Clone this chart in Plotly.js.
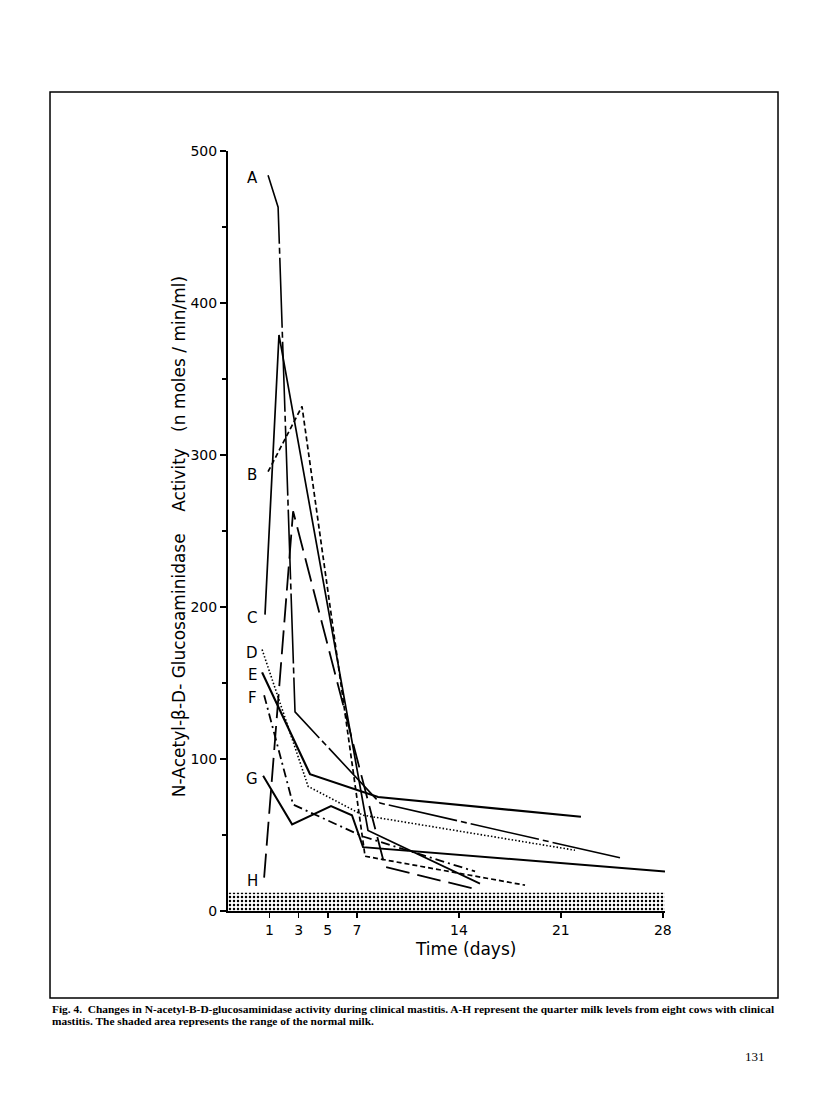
<!DOCTYPE html>
<html>
<head>
<meta charset="utf-8">
<script src="https://cdn.plot.ly/plotly-3.0.1.min.js"></script>
<style>
  body { margin: 0; background: #fff; }
  #fig4 { width: 816px; height: 1105px; }
</style>
</head>
<body>
<div id="fig4"></div>
<script>
// values (days, nmoles/min/ml)
var cowNames = ['A', 'B', 'C', 'D', 'E', 'F', 'G', 'H'];

var daysA = [0.90, 1.59, 2.75, 8.59, 25.06];
var valsA = [484, 463, 131, 71, 35];
var daysB = [0.90, 3.23, 7.56, 18.54];
var valsB = [289, 332, 36, 17];
var daysC = [0.69, 1.65, 7.76, 15.45];
var valsC = [195, 379, 53, 18];
var daysD = [0.49, 3.65, 7.42, 21.97];
var valsD = [172, 82, 63, 40];
var daysE = [0.49, 3.78, 8.45, 22.38];
var valsE = [157, 90, 75, 62];
var daysF = [0.63, 2.62, 7.42, 15.11];
var valsF = [142, 70, 49, 26];
var daysG = [0.56, 2.55, 5.22, 6.66, 7.42, 28.15];
var valsG = [89, 57, 69, 63, 42, 26];
var daysH = [0.63, 2.62, 8.93, 15.31];
var valsH = [22, 263, 29, 14];

var dayTicks = [1, 3, 5, 7, 14, 21, 28];
var normalRange = [0, 12];

var allDays = [daysA, daysB, daysC, daysD, daysE, daysF, daysG, daysH];
var allVals = [valsA, valsB, valsC, valsD, valsE, valsF, valsG, valsH];

// line look for each cow
var dashes = [
    '70px,4px,6px,4px',   // A
    '5px,3px',            // B
    'solid',              // C
    '1.5px,2px',          // D
    'solid',              // E
    '9px,4px,2px,4px',    // F
    'solid',              // G
    '24px,8px'            // H
];
var widths = [1.6, 1.7, 1.7, 1.6, 2.2, 1.8, 2.0, 1.8];

var xRange = [-1.85, 28.15];

var data = [];

// shaded band = range of normal milk
data.push({
    x: xRange,
    y: [normalRange[1], normalRange[1]],
    mode: 'lines',
    type: 'scatter',
    fill: 'tozeroy',
    line: { width: 0, color: 'rgba(0,0,0,0)' },
    fillcolor: 'rgba(0,0,0,0)',
    fillpattern: { shape: '.', fgcolor: '#000', bgcolor: '#fff', size: 4, solidity: 0.3 },
    hoverinfo: 'skip'
});

for (var i = 0; i < cowNames.length; i++) {
    data.push({
        x: allDays[i],
        y: allVals[i],
        mode: 'lines',
        type: 'scatter',
        name: cowNames[i],
        line: { color: '#000', width: widths[i], dash: dashes[i] }
    });
}

var annotations = [];
// letter labels next to the first point of each curve
for (var j = 0; j < cowNames.length; j++) {
    annotations.push({
        x: -0.2, y: allVals[j][0] - 2,
        xref: 'x', yref: 'y',
        text: cowNames[j],
        showarrow: false,
        font: { family: 'DejaVu Sans', size: 15, color: '#000' }
    });
}

annotations.push({
    xref: 'paper', yref: 'paper', x: -0.112, y: 0.492,
    xanchor: 'center', yanchor: 'middle',
    text: 'N-Acetyl-β-D- Glucosaminidase    Activity   (n moles / min/ml)',
    textangle: -90, showarrow: false,
    font: { family: 'DejaVu Sans', size: 17, color: '#000' }
});
annotations.push({
    xref: 'paper', yref: 'paper', x: 0.543, y: -0.05,
    xanchor: 'center', yanchor: 'middle',
    text: 'Time (days)', showarrow: false,
    font: { family: 'DejaVu Sans', size: 17, color: '#000' }
});
annotations.push({
    xref: 'paper', yref: 'paper', x: -0.4073, y: -0.1289,
    xanchor: 'left', yanchor: 'middle', align: 'left', showarrow: false,
    text: '<b>Fig. 4.  Changes in N-acetyl-B-D-glucosaminidase activity during clinical mastitis. A-H represent the quarter milk levels from eight cows with clinical</b>',
    font: { family: 'Liberation Serif', size: 11.4, color: '#000' }
});
annotations.push({
    xref: 'paper', yref: 'paper', x: -0.4073, y: -0.1447,
    xanchor: 'left', yanchor: 'middle', align: 'left', showarrow: false,
    text: '<b>mastitis. The shaded area represents the range of the normal milk.</b>',
    font: { family: 'Liberation Serif', size: 11.4, color: '#000' }
});
annotations.push({
    xref: 'paper', yref: 'paper', x: 1.206, y: -0.1908,
    xanchor: 'center', yanchor: 'middle',
    text: '131', showarrow: false,
    font: { family: 'Liberation Serif', size: 13, color: '#000' }
});

var layout = {
    width: 816,
    height: 1105,
    margin: { l: 228, r: 151, t: 151, b: 194 },
    paper_bgcolor: '#fff',
    plot_bgcolor: '#fff',
    font: { color: '#000' },
    showlegend: false,
    xaxis: {
        range: xRange,
        tickmode: 'array',
        tickvals: dayTicks,
        ticks: 'outside', ticklen: 5, tickwidth: 1.5, tickcolor: '#000',
        showline: true, linewidth: 2, linecolor: '#000',
        showgrid: false, zeroline: false,
        tickfont: { family: 'DejaVu Sans', size: 14, color: '#000' }
    },
    yaxis: {
        range: [0, 500],
        tickmode: 'linear', tick0: 0, dtick: 100,
        ticks: 'outside', ticklen: 6, tickwidth: 1.5, tickcolor: '#000',
        minor: { tickmode: 'linear', tick0: 50, dtick: 100, ticks: 'outside', ticklen: 4, tickwidth: 1.5, tickcolor: '#000' },
        showline: true, linewidth: 2, linecolor: '#000',
        showgrid: false, zeroline: false,
        tickfont: { family: 'DejaVu Sans', size: 14, color: '#000' }
    },
    shapes: [{
        // page frame around the figure
        type: 'rect', xref: 'paper', yref: 'paper',
        x0: -0.4073, x1: 1.2586, y0: -0.1145, y1: 1.0776,
        line: { color: '#000', width: 1.5 }
    }],
    annotations: annotations
};

Plotly.newPlot('fig4', data, layout, { displayModeBar: false, staticPlot: true });
</script>
</body>
</html>
